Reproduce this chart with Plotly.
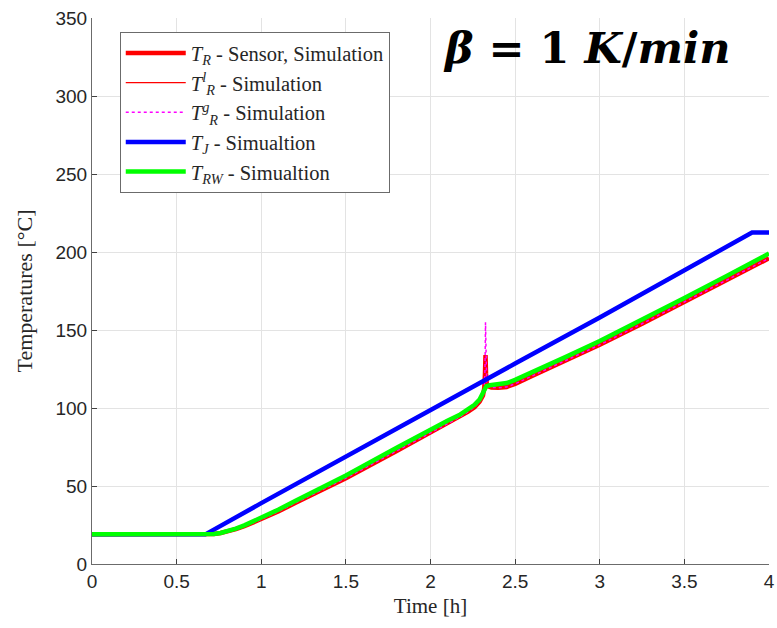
import plotly.graph_objects as go

# ---- data ----
x_ticks = [0, 0.5, 1, 1.5, 2, 2.5, 3, 3.5, 4]
x_tick_labels = ["0", "0.5", "1", "1.5", "2", "2.5", "3", "3.5", "4"]
y_ticks = [0, 50, 100, 150, 200, 250, 300, 350]
y_tick_labels = ["0", "50", "100", "150", "200", "250", "300", "350"]

t_jacket = [0, 0.67, 1.0, 1.5, 2.0, 2.5, 3.0, 3.5, 3.9, 4.0]
T_J = [19, 19, 39, 69, 99, 128.5, 158, 188, 212.5, 212.5]

t_reactor = [0, 0.5, 0.68, 0.72, 0.76, 0.8, 0.85, 0.9, 0.95, 1.0, 1.1, 1.2, 1.5, 1.8, 2.0,
             2.1, 2.17, 2.22, 2.26, 2.29, 2.31, 2.318, 2.322, 2.325, 2.328, 2.332,
             2.34, 2.36, 2.4, 2.45, 2.5, 2.6, 2.8, 3.0, 3.25, 3.5, 3.75, 3.9, 4.0]
T_R_sensor = [19, 19, 19, 19.2, 19.85, 20.8, 22.3, 24.2, 26.4, 28.6, 33.6, 39.1, 55, 72.5, 84.5,
              90, 94, 97.5, 100.5, 104, 108, 113, 122, 134, 122, 116,
              114, 113.2, 113, 113.5, 115.5, 120.5, 130.5, 140.5, 154, 168, 182, 190.5, 196]
T_R_liquid = [19, 19, 19, 19.2, 19.85, 20.8, 22.3, 24.2, 26.4, 28.6, 33.6, 39.1, 55, 72.5, 84.5,
              90, 94, 97.5, 100.5, 104, 108, 113, 122, 134, 122, 116,
              114, 113.2, 113, 113.5, 115.5, 120.5, 130.5, 140.5, 154, 168, 182, 190.5, 196]
T_R_gas = [19, 19, 19, 19.2, 19.85, 20.8, 22.3, 24.2, 26.4, 28.6, 33.6, 39.1, 55, 72.5, 84.5,
           90, 94, 97.5, 100.5, 104, 108, 113, 125, 155, 125, 116,
           114, 113.2, 113, 113.5, 115.5, 120.5, 130.5, 140.5, 154, 168, 182, 190.5, 196]

t_wall = [0, 0.5, 0.68, 0.72, 0.76, 0.8, 0.85, 0.9, 0.95, 1.0, 1.1, 1.2, 1.5, 1.8, 2.0,
          2.1, 2.17, 2.22, 2.26, 2.29, 2.31, 2.32, 2.33, 2.35, 2.4, 2.45, 2.5,
          2.6, 2.8, 3.0, 3.25, 3.5, 3.75, 3.9, 4.0]
T_RW = [19, 19, 19, 19.3, 19.9, 21.0, 22.7, 24.8, 27.2, 29.6, 34.8, 40.4, 56.8, 74.5, 86.3,
        91.8, 95.5, 99, 102, 105.5, 110, 112.5, 114, 114.6, 115, 116, 118,
        122.8, 132.8, 143, 156.5, 170.5, 184.7, 193.3, 199]

names = [
    "<i>T</i><sub><i>R</i></sub> - Sensor, Simulation",
    "<i>T</i><sup><i>l</i></sup><sub><i>R</i></sub> - Simulation",
    "<i>T</i><sup><i>g</i></sup><sub><i>R</i></sub> - Simulation",
    "<i>T</i><sub><i>J</i></sub> - Simualtion",
    "<i>T</i><sub><i>RW</i></sub> - Simualtion",
]

fig = go.Figure()
fig.add_trace(go.Scatter(x=t_reactor, y=T_R_sensor, mode="lines", name=names[0],
                         line=dict(color="#ff0000", width=4.5)))
fig.add_trace(go.Scatter(x=t_reactor, y=T_R_liquid, mode="lines", name=names[1],
                         line=dict(color="#ff0000", width=1.3)))
fig.add_trace(go.Scatter(x=t_reactor, y=T_R_gas, mode="lines", name=names[2],
                         line=dict(color="#ff00ff", width=1.5, dash="dot")))
fig.add_trace(go.Scatter(x=t_jacket, y=T_J, mode="lines", name=names[3],
                         line=dict(color="#0000ff", width=4.5)))
fig.add_trace(go.Scatter(x=t_wall, y=T_RW, mode="lines", name=names[4],
                         line=dict(color="#00ff00", width=4.5)))

axis_common = dict(
    showline=True, linecolor="#6b6b6b", linewidth=1,
    ticks="inside", ticklen=5, tickcolor="#404040",
    showgrid=True, gridcolor="#e3e3e3", gridwidth=1,
    zeroline=False, automargin=False,
    tickfont=dict(family="Liberation Sans, Arial, sans-serif", size=19, color="#262626"),
)

fig.update_layout(
    width=777, height=628,
    margin=dict(l=92, r=8, t=18, b=64),
    plot_bgcolor="white", paper_bgcolor="white",
    xaxis=dict(range=[0, 4], tickvals=x_ticks, ticktext=x_tick_labels,
               title=dict(text="Time [h]", standoff=7,
                          font=dict(family="Liberation Serif, Times New Roman, serif", size=21, color="#262626")),
               **axis_common),
    yaxis=dict(range=[0, 350], tickvals=y_ticks, ticktext=y_tick_labels,
               title=dict(text="Temperatures [°C]", standoff=16,
                          font=dict(family="Liberation Serif, Times New Roman, serif", size=22, color="#262626")),
               **axis_common),
    legend=dict(x=0.041, y=0.974, xanchor="left", yanchor="top",
                bgcolor="white", bordercolor="#6b6b6b", borderwidth=1,
                font=dict(family="Liberation Serif, Times New Roman, serif", size=20.5, color="#262626"),
                itemwidth=60, tracegroupgap=0),
    showlegend=True,
)

fig.add_annotation(
    x=0.731, y=0.945, xref="paper", yref="paper", showarrow=False,
    xanchor="center", yanchor="middle",
    text="<b><i>β</i> = 1 <i>K</i>/<i>min</i></b>",
    font=dict(family="DejaVu Serif, serif", size=43, color="black"),
)

fig.write_html("out.html", config={"displayModeBar": False},
               post_script="document.body.style.margin='0';document.body.style.overflow='hidden';")
